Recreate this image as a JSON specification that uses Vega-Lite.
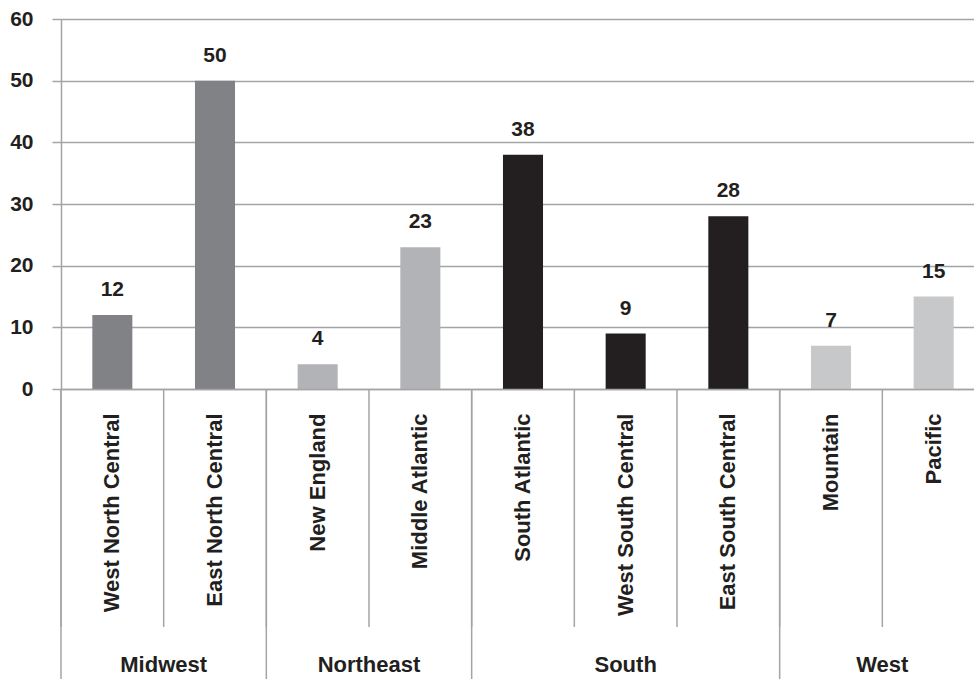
{
  "$schema": "https://vega.github.io/schema/vega-lite/v6.json",
  "autosize": "none",
  "width": 913,
  "height": 370,
  "padding": {"left": 61, "top": 19, "right": 0, "bottom": 290},
  "background": "white",
  "config": {
    "view": {"stroke": null},
    "font": "Liberation Sans",
    "text": {"font": "Liberation Sans"}
  },
  "data": {
    "values": [
      {"sub": "West North Central", "region": "Midwest", "value": 12},
      {"sub": "East North Central", "region": "Midwest", "value": 50},
      {"sub": "New England", "region": "Northeast", "value": 4},
      {"sub": "Middle Atlantic", "region": "Northeast", "value": 23},
      {"sub": "South Atlantic", "region": "South", "value": 38},
      {"sub": "West South Central", "region": "South", "value": 9},
      {"sub": "East South Central", "region": "South", "value": 28},
      {"sub": "Mountain", "region": "West", "value": 7},
      {"sub": "Pacific", "region": "West", "value": 15}
    ]
  },
  "encoding": {
    "x": {
      "field": "sub",
      "type": "nominal",
      "sort": ["West North Central", "East North Central", "New England", "Middle Atlantic", "South Atlantic", "West South Central", "East South Central", "Mountain", "Pacific"],
      "scale": {"range": [0, 924], "paddingInner": 0, "paddingOuter": 0},
      "axis": {
        "title": null,
        "labelAngle": -90,
        "labelFont": "Liberation Sans",
        "labelFontWeight": "bold",
        "labelFontSize": 22,
        "labelColor": "#231f20",
        "labelPadding": 24,
        "ticks": false,
        "domainColor": "#a3a4a6",
        "domainWidth": 1.5,
        "labelLimit": 400,
        "zindex": 1
      }
    }
  },
  "layer": [
    {
      "mark": {"type": "bar", "width": {"band": 0.39}},
      "encoding": {
        "y": {
          "field": "value",
          "type": "quantitative",
          "scale": {"domain": [0, 60], "nice": false},
          "axis": {
            "title": null,
            "values": [0, 10, 20, 30, 40, 50, 60],
            "labelFont": "Liberation Sans",
            "labelFontWeight": "bold",
            "labelFontSize": 21,
            "labelColor": "#231f20",
            "labelPadding": 19,
            "tickSize": 9,
            "tickColor": "#a3a4a6",
            "tickWidth": 1.5,
            "domainColor": "#a3a4a6",
            "domainWidth": 1.5,
            "grid": true,
            "gridColor": "#a3a4a6",
            "gridWidth": 1.5,
            "zindex": 0
          }
        },
        "color": {
          "field": "region",
          "type": "nominal",
          "scale": {"domain": ["Midwest", "Northeast", "South", "West"], "range": ["#808285", "#b2b3b6", "#231f20", "#c7c8ca"]},
          "legend": null
        }
      }
    },
    {
      "mark": {"type": "text", "baseline": "alphabetic", "dy": -19, "fontSize": 21, "fontWeight": "bold", "color": "#231f20"},
      "encoding": {
        "y": {"field": "value", "type": "quantitative"},
        "text": {"field": "value", "type": "quantitative"}
      }
    },
    {
      "mark": {"type": "rule", "color": "#a3a4a6", "strokeWidth": 1.5},
      "encoding": {
        "x": {"field": "sub", "type": "nominal", "bandPosition": 0},
        "y": {"datum": 0},
        "y2": {"datum": -38.6}
      }
    },
    {
      "data": {"values": [
        {"sub": "West North Central"},
        {"sub": "New England"},
        {"sub": "South Atlantic"},
        {"sub": "Mountain"}
      ]},
      "mark": {"type": "rule", "color": "#a3a4a6", "strokeWidth": 1.5},
      "encoding": {
        "x": {"field": "sub", "type": "nominal", "bandPosition": 0},
        "y": {"datum": 0},
        "y2": {"datum": -48}
      }
    },
    {
      "data": {"values": [
        {"sub": "East North Central", "region": "Midwest"},
        {"sub": "Middle Atlantic", "region": "Northeast"},
        {"sub": "Pacific", "region": "West"}
      ]},
      "mark": {"type": "text", "baseline": "alphabetic", "fontSize": 22, "fontWeight": "bold", "color": "#231f20"},
      "encoding": {
        "x": {"field": "sub", "type": "nominal", "bandPosition": 0},
        "y": {"datum": -45.9},
        "text": {"field": "region"}
      }
    },
    {
      "data": {"values": [
        {"sub": "West South Central", "region": "South"}
      ]},
      "mark": {"type": "text", "baseline": "alphabetic", "fontSize": 22, "fontWeight": "bold", "color": "#231f20"},
      "encoding": {
        "x": {"field": "sub", "type": "nominal", "bandPosition": 0.5},
        "y": {"datum": -45.9},
        "text": {"field": "region"}
      }
    }
  ]
}
